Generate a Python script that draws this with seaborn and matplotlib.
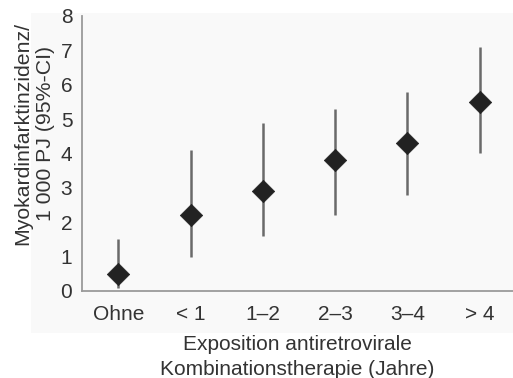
import pandas as pd
import matplotlib
matplotlib.use('Agg')
import matplotlib.pyplot as plt
import seaborn as sns
from matplotlib.patches import Rectangle

# data
categories = ['Ohne', '< 1', '1\u20132', '2\u20133', '3\u20134', '> 4']
incidence = [0.5, 2.2, 2.9, 3.8, 4.3, 5.5]
ci_low = [0.1, 1.0, 1.6, 2.2, 2.8, 4.0]
ci_high = [1.5, 4.1, 4.9, 5.3, 5.8, 7.1]

df = pd.DataFrame({'Exposition': categories, 'Inzidenz': incidence,
                   'lo': ci_low, 'hi': ci_high})

sns.set_style('white')
plt.rcParams['font.family'] = ['Liberation Sans', 'DejaVu Sans']
text_col = '#333333'

fig = plt.figure(figsize=(5.13, 3.78), dpi=100)
# faint grey panel behind plot
fig.patches.append(Rectangle((0.06, 0.119), 0.94, 0.847, transform=fig.transFigure,
                             facecolor='#f9f9f9', edgecolor='none', zorder=-10))
ax = fig.add_axes([0.16, 0.2302, 0.84, 0.7275])
ax.set_facecolor('none')

# CI lines
ax.vlines(range(len(df)), df['lo'], df['hi'], color='#6a6a6a', linewidth=1.8, zorder=2)
sns.scatterplot(x='Exposition', y='Inzidenz', data=df, marker='D', s=130,
                color='#222222', edgecolor='#222222', linewidth=0.5, zorder=3, ax=ax)

ax.set_xlim(-0.5, 5.46)
ax.set_ylim(0, 8)
ax.set_yticks(range(0, 9))
ax.set_xticks([i + 0.5 for i in range(5)], minor=False)
ax.set_xticklabels([])
ax.set_xticks(range(len(categories)), minor=True)
ax.set_xticklabels(categories, minor=True)

for s in ['top', 'right']:
    ax.spines[s].set_visible(False)
for s in ['left', 'bottom']:
    ax.spines[s].set_color('#9a9a9a')
    ax.spines[s].set_linewidth(1.3)

ax.tick_params(axis='y', which='major', direction='out', length=3, width=1,
               color='#9a9a9a', labelsize=15, labelcolor=text_col, pad=4)
ax.tick_params(axis='x', which='major', direction='inout', length=6, width=1,
               color='#9a9a9a')
ax.tick_params(axis='x', which='minor', length=0, labelsize=15,
               labelcolor=text_col, pad=10)

ax.set_xlabel('Exposition antiretrovirale\nKombinationstherapie (Jahre)',
              fontsize=15, color=text_col, linespacing=1.42)
ax.xaxis.set_label_coords(0.5, -0.16)
ax.set_ylabel('Myokardinfarktinzidenz/\n1 000 PJ (95%-CI)',
              fontsize=15.3, color=text_col, linespacing=1.25)
ax.yaxis.set_label_coords(-0.062, 0.573)

fig.savefig('out.png', dpi=100, facecolor='white')
